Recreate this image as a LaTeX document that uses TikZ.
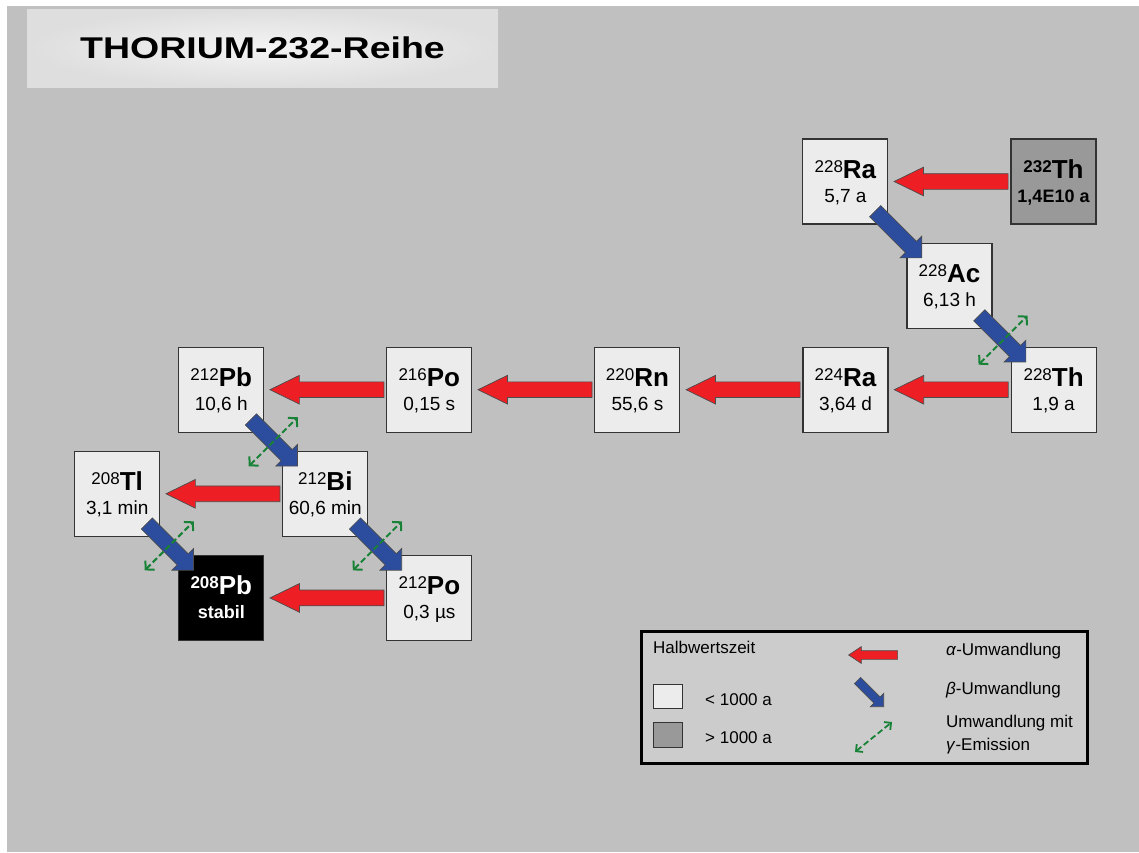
\documentclass[tikz,border=0pt]{standalone}
\usepackage{graphicx}
\usepackage{fontspec}
\setmainfont{Liberation Sans}
\usepackage{tikz}
\usetikzlibrary{positioning, calc, shapes.arrows, arrows.meta}

\definecolor{bggray}{RGB}{192,192,192}
\definecolor{boxlight}{RGB}{236,236,236}
\definecolor{boxdark}{RGB}{153,153,153}
\definecolor{keygray}{RGB}{204,204,204}
\definecolor{titlelight}{RGB}{244,244,244}
\definecolor{titledark}{RGB}{222,222,222}
\definecolor{alphared}{RGB}{237,30,36}
\definecolor{betablue}{RGB}{44,76,158}
\definecolor{gammagreen}{RGB}{24,130,54}

% superscript mass number, element symbol, half-life
\newcommand{\isotope}[3]{\rule{0pt}{20pt}\smash{\raisebox{6.2pt}{\fontsize{17}{17}\selectfont#1}{\fontsize{26}{26}\selectfont\bfseries#2}}\\\smash{#3}\rule[-2pt]{0pt}{2pt}}

\begin{document}
\begin{tikzpicture}[x=1pt,y=-1pt,node distance=18pt,
  nuc/.style={draw=black!80,line width=1.1pt,fill=boxlight,minimum size=85pt,inner sep=0pt,align=center,font=\fontsize{19}{24}\selectfont},
  longlived/.style={nuc,fill=boxdark,font=\fontsize{18}{24}\selectfont\bfseries},
  stable/.style={nuc,fill=black,text=white,font=\fontsize{18}{24}\selectfont\bfseries},
  alphaarrow/.style={single arrow,draw=black!70,line width=.7pt,fill=alphared,inner xsep=0pt,inner ysep=7.5pt,minimum height=114pt,single arrow head extend=6.5pt,single arrow tip angle=52},
  betaarrow/.style={single arrow,draw=black!70,line width=.7pt,fill=betablue,inner xsep=0pt,inner ysep=7.5pt,minimum height=66pt,single arrow head extend=7.5pt,single arrow tip angle=90},
  gammaarrow/.style={draw=gammagreen,line width=2pt,dash pattern=on 6pt off 3pt,{Straight Barb[length=6pt,width=13pt]}-{Straight Barb[length=6pt,width=13pt]}},
  keytext/.style={anchor=base west,inner sep=0pt,font=\fontsize{17}{17}\selectfont}]
\useasboundingbox (0,0) rectangle (1139,852);
\fill[white] (0,0) rectangle (1139,852);
\fill[bggray] (7,6) rectangle (1139,852);

\node [minimum width=471pt,minimum height=78pt,inner color=titlelight,outer color=titledark,font=\fontsize{30}{30}\selectfont\bfseries] (title) at (262.5,48) {\scalebox{1.25}[1]{THORIUM-232-Reihe}};

% decay chain
\node [longlived] (Th232) at (1053.5,181.5) {\isotope{232}{Th}{1,4E10 a}};
\node [nuc] [left=122pt of Th232] (Ra228)           {\isotope{228}{Ra}{5,7 a}};
\node [nuc] [below right=18pt and 18pt of Ra228] (Ac228) {\isotope{228}{Ac}{6,13 h}};
\node [nuc] [below right=18pt and 18pt of Ac228] (Th228) {\isotope{228}{Th}{1,9 a}};
\node [nuc] [left=122pt of Th228] (Ra224)           {\isotope{224}{Ra}{3,64 d}};
\node [nuc] [left=122pt of Ra224] (Rn220)           {\isotope{220}{Rn}{55,6 s}};
\node [nuc] [left=122pt of Rn220] (Po216)           {\isotope{216}{Po}{0,15 s}};
\node [nuc] [left=122pt of Po216] (Pb212)           {\isotope{212}{Pb}{10,6 h}};
\node [nuc] [below right=18pt and 18pt of Pb212] (Bi212) {\isotope{212}{Bi}{60,6 min}};
\node [nuc] [left=122pt of Bi212] (Tl208)           {\isotope{208}{Tl}{3,1 min}};
\node [nuc] [below right=18pt and 18pt of Bi212] (Po212) {\isotope{212}{Po}{0,3 µs}};
\node [stable] [left=122pt of Po212] (Pb208)        {\isotope{208}{Pb}{stabil}};

\path (Th232.west) -- node [alphaarrow,sloped,allow upside down,pos=.96,anchor=tip] (a1) {} (Ra228.east);
\path (Th228.west) -- node [alphaarrow,sloped,allow upside down,pos=.96,anchor=tip] (a2) {} (Ra224.east);
\path (Ra224.west) -- node [alphaarrow,sloped,allow upside down,pos=.96,anchor=tip] (a3) {} (Rn220.east);
\path (Rn220.west) -- node [alphaarrow,sloped,allow upside down,pos=.96,anchor=tip] (a4) {} (Po216.east);
\path (Po216.west) -- node [alphaarrow,sloped,allow upside down,pos=.96,anchor=tip] (a5) {} (Pb212.east);
\path (Bi212.west) -- node [alphaarrow,sloped,allow upside down,pos=.96,anchor=tip] (a6) {} (Tl208.east);
\path (Po212.west) -- node [alphaarrow,sloped,allow upside down,pos=.96,anchor=tip] (a7) {} (Pb208.east);

\path (Ra228.south east) -- node [betaarrow,sloped,pos=1.87,anchor=tip] (b1) {} (Ac228.north west);
\path (Ac228.south east) -- node [betaarrow,sloped,pos=1.87,anchor=tip] (b2) {} (Th228.north west);
\path (Pb212.south east) -- node [betaarrow,sloped,pos=1.87,anchor=tip] (b3) {} (Bi212.north west);
\path (Bi212.south east) -- node [betaarrow,sloped,pos=1.87,anchor=tip] (b4) {} (Po212.north west);
\path (Tl208.south east) -- node [betaarrow,sloped,pos=1.87,anchor=tip] (b5) {} (Pb208.north west);

\draw [gammaarrow] ($(Ac228.south east)!.5!(Th228.north west)+(-23,27)$) -- ($(Ac228.south east)!.5!(Th228.north west)+(26,-22)$);
\draw [gammaarrow] ($(Pb212.south east)!.5!(Bi212.north west)+(-24.5,24.5)$) -- ($(Pb212.south east)!.5!(Bi212.north west)+(24.5,-24.5)$);
\draw [gammaarrow] ($(Bi212.south east)!.5!(Po212.north west)+(-24.5,24.5)$) -- ($(Bi212.south east)!.5!(Po212.north west)+(24.5,-24.5)$);
\draw [gammaarrow] ($(Tl208.south east)!.5!(Pb208.north west)+(-24.5,24.5)$) -- ($(Tl208.south east)!.5!(Pb208.north west)+(24.5,-24.5)$);

% legend
\node [draw=black,line width=3pt,fill=keygray,minimum width=446pt,minimum height=132pt,inner sep=0pt] (key) at (864.5,697.5) {};
\node [keytext] (keyhead) at (653,653) {Halbwertszeit};
\node [draw=black!80,line width=1.1pt,fill=boxlight,minimum width=29pt,minimum height=24pt,inner sep=0pt] (keylight) at (668,696.5) {};
\node [draw=black!80,line width=1.1pt,fill=boxdark,minimum width=29pt,minimum height=25pt,inner sep=0pt] (keydark) at (668,735) {};
\node [keytext] (keylighttext) at (705,705) {< 1000 a};
\node [keytext] (keydarktext) at (705,743) {> 1000 a};
\node [alphaarrow,minimum height=49pt,inner ysep=4pt,single arrow head extend=4pt,single arrow tip angle=67,rotate=180,anchor=tip] (keyalpha) at (848,655) {};
\node [betaarrow,minimum height=37pt,inner ysep=4pt,single arrow head extend=5pt,rotate=-45,anchor=tip] (keybeta) at (884,707) {};
\coordinate (keyg1) at (855,752);
\coordinate (keyg2) at (892,722);
\draw [gammaarrow,line width=1.8pt,{Straight Barb[length=5pt,width=10pt]}-{Straight Barb[length=5pt,width=10pt]}] (keyg1) -- (keyg2);
\node [keytext] (keyalphatext) at (946,655) {\textit{α}-Umwandlung};
\node [keytext] (keybetatext) at (946,694) {\textit{β}-Umwandlung};
\node [keytext] (keygammatext) at (946,727) {Umwandlung mit};
\node [keytext] (keygammatext2) at (946,750) {\textit{γ}-Emission};
\end{tikzpicture}
\end{document}
